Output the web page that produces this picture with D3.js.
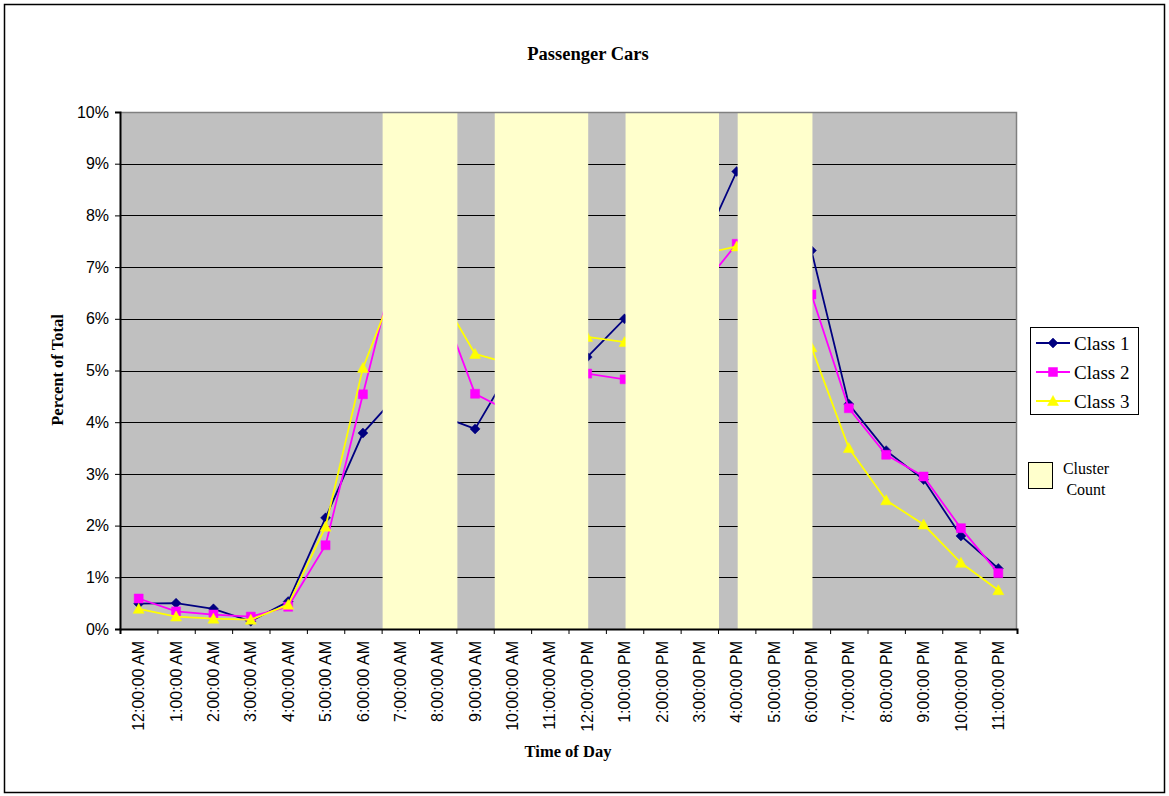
<!DOCTYPE html>
<html>
<head>
<meta charset="utf-8">
<script src="https://cdn.jsdelivr.net/npm/d3@7"></script>
<style>
  html, body { margin: 0; padding: 0; background: #fff; }
  svg { display: block; }
</style>
</head>
<body>
<div id="chart"></div>
<script>
const categories = ["12:00:00 AM","1:00:00 AM","2:00:00 AM","3:00:00 AM","4:00:00 AM","5:00:00 AM",
  "6:00:00 AM","7:00:00 AM","8:00:00 AM","9:00:00 AM","10:00:00 AM","11:00:00 AM",
  "12:00:00 PM","1:00:00 PM","2:00:00 PM","3:00:00 PM","4:00:00 PM","5:00:00 PM",
  "6:00:00 PM","7:00:00 PM","8:00:00 PM","9:00:00 PM","10:00:00 PM","11:00:00 PM"];
const class1 = [0.49,0.50,0.39,0.15,0.53,2.15,3.79,4.59,4.14,3.87,5.10,5.20,5.26,6.00,6.60,7.26,8.85,8.40,7.32,4.35,3.45,2.89,1.80,1.17];
const class2 = [0.59,0.34,0.28,0.24,0.43,1.62,4.54,7.41,6.47,4.55,4.18,4.60,4.94,4.83,5.70,6.55,7.45,7.30,6.47,4.27,3.37,2.95,1.95,1.08];
const class3 = [0.39,0.24,0.20,0.18,0.47,1.98,5.05,6.90,6.56,5.32,5.12,5.40,5.65,5.55,6.40,7.24,7.40,6.80,5.45,3.50,2.49,2.02,1.28,0.75];
const seriesNames = ["Class 1","Class 2","Class 3"];
const seriesColors = ["#000080","#FF00FF","#FFFF00"];
const seriesMarkers = ["diamond","square","triangle"];
// Cluster count periods (hour of day start / end)
const clusterStart = [7, 10, 13.5, 16.5];
const clusterEnd = [9, 12.5, 16, 18.5];
const yTicks = [0,1,2,3,4,5,6,7,8,9,10];

const W = 1169, H = 796;
const L = 120, R = 1017, T = 112, B = 629;

const svg = d3.select("#chart").append("svg").attr("width", W).attr("height", H);
svg.append("rect").attr("x",0).attr("y",0).attr("width",W).attr("height",H).attr("fill","#fff");
svg.append("rect").attr("x",4.5).attr("y",4.5).attr("width",1160).attr("height",788)
  .attr("fill","none").attr("stroke","#000").attr("stroke-width",1.5);

const x = d3.scaleBand().domain(categories).range([L, R]).padding(0);
const xh = d3.scaleLinear().domain([0, 24]).range([L, R]);
const y = d3.scaleLinear().domain([0, 10]).range([B, T]);

// plot background
svg.append("rect").attr("x",L).attr("y",T).attr("width",R-L).attr("height",B-T).attr("fill","#C0C0C0");

// gridlines
svg.append("g").selectAll("line").data(yTicks.slice(1)).join("line")
  .attr("x1",L).attr("x2",R)
  .attr("y1",d=>Math.round(y(d))+0.5).attr("y2",d=>Math.round(y(d))+0.5)
  .attr("stroke","#000").attr("stroke-width",1);

// series
const allSeries = [class1, class2, class3];
const line = d3.line().x((d,i)=>x(categories[i]) + x.bandwidth()/2).y(d=>y(d));
function markerPath(type){
  if (type === "diamond") return "M0,-5L5,0L0,5L-5,0Z";
  if (type === "square") return "M-4.5,-4.5L4.5,-4.5L4.5,4.5L-4.5,4.5Z";
  return "M0,-5.5L5.5,4.5L-5.5,4.5Z";
}
allSeries.forEach((vals, s) => {
  const g = svg.append("g");
  g.append("path").datum(vals).attr("d", line).attr("fill","none")
    .attr("stroke", seriesColors[s]).attr("stroke-width", 1.8);
  g.selectAll("path.m").data(vals).join("path").attr("class","m")
    .attr("transform",(d,i)=>`translate(${x(categories[i]) + x.bandwidth()/2},${y(d)})`)
    .attr("d", markerPath(seriesMarkers[s]))
    .attr("fill", seriesColors[s]).attr("stroke", seriesColors[s]).attr("stroke-width",0.5);
});

// cluster bars (drawn on top)
svg.append("g").selectAll("rect").data(clusterStart).join("rect")
  .attr("x",(d)=>xh(d)+1).attr("y",T+1)
  .attr("width",(d,i)=>xh(clusterEnd[i]) - xh(d))
  .attr("height",B-T-1).attr("fill","#FFFFCC");

// plot border top/right
svg.append("path").attr("d",`M${L},${T+0.5}H${R-0.5}V${B}`).attr("fill","none")
  .attr("stroke","#808080").attr("stroke-width",1.5);

// axes
const yAxis = d3.axisLeft(y).tickValues(yTicks).tickFormat(d=>d+"%").tickSize(5).tickPadding(6);
const gy = svg.append("g").attr("transform",`translate(${L},0)`).call(yAxis);
gy.select(".domain").attr("stroke","#000").attr("stroke-width",2);
gy.selectAll(".tick line").attr("stroke","#000");
gy.selectAll(".tick text").attr("font-family","'Liberation Sans', Arial, sans-serif")
  .attr("font-size","16px").attr("fill","#000");

const xTickAxis = d3.axisBottom(xh).tickValues(d3.range(25)).tickFormat("").tickSize(5);
const gxt = svg.append("g").attr("transform",`translate(0,${B})`).call(xTickAxis);
gxt.select(".domain").attr("stroke","#000").attr("stroke-width",2);
gxt.selectAll(".tick line").attr("stroke","#000");

const xAxis = d3.axisBottom(x).tickSize(0).tickPadding(0);
const gx = svg.append("g").attr("transform",`translate(0,${B})`).call(xAxis);
gx.select(".domain").remove();
gx.selectAll(".tick text")
  .attr("font-family","'Liberation Sans', Arial, sans-serif").attr("font-size","16px").attr("fill","#000")
  .attr("transform","rotate(-90)").attr("text-anchor","end")
  .attr("x",-12).attr("y",0).attr("dy","0.35em");

// titles
svg.append("text").attr("x",588).attr("y",60).attr("text-anchor","middle")
  .attr("font-family","'Liberation Serif','Times New Roman',serif").attr("font-weight","bold")
  .attr("font-size","18.5px").text("Passenger Cars");
svg.append("text").attr("x",568).attr("y",757).attr("text-anchor","middle")
  .attr("font-family","'Liberation Serif','Times New Roman',serif").attr("font-weight","bold")
  .attr("font-size","16.5px").text("Time of Day");
svg.append("text").attr("transform","translate(63,370) rotate(-90)").attr("text-anchor","middle")
  .attr("font-family","'Liberation Serif','Times New Roman',serif").attr("font-weight","bold")
  .attr("font-size","16.5px").text("Percent of Total");

// legend
const lg = svg.append("g");
lg.append("rect").attr("x",1030.5).attr("y",327.5).attr("width",108).attr("height",87)
  .attr("fill","#fff").attr("stroke","#000").attr("stroke-width",1);
const rowY = [343, 372, 401];
seriesNames.forEach((name, s) => {
  lg.append("line").attr("x1",1036).attr("x2",1070).attr("y1",rowY[s]).attr("y2",rowY[s])
    .attr("stroke",seriesColors[s]).attr("stroke-width",1.8);
  lg.append("path").attr("transform",`translate(1053,${rowY[s]})`).attr("d",markerPath(seriesMarkers[s]))
    .attr("fill",seriesColors[s]).attr("stroke",seriesColors[s]).attr("stroke-width",0.5);
  lg.append("text").attr("x",1074).attr("y",rowY[s]).attr("dy","0.35em")
    .attr("font-family","'Liberation Serif','Times New Roman',serif").attr("font-size","19px")
    .text(name);
});
lg.append("rect").attr("x",1028.5).attr("y",462.5).attr("width",24).attr("height",26)
  .attr("fill","#FFFFCC").attr("stroke","#000").attr("stroke-width",1);
lg.append("text").attr("x",1086).attr("y",468).attr("dy","0.35em").attr("text-anchor","middle")
  .attr("font-family","'Liberation Serif','Times New Roman',serif").attr("font-size","16px").text("Cluster");
lg.append("text").attr("x",1086).attr("y",489).attr("dy","0.35em").attr("text-anchor","middle")
  .attr("font-family","'Liberation Serif','Times New Roman',serif").attr("font-size","16px").text("Count");
</script>
</body>
</html>
